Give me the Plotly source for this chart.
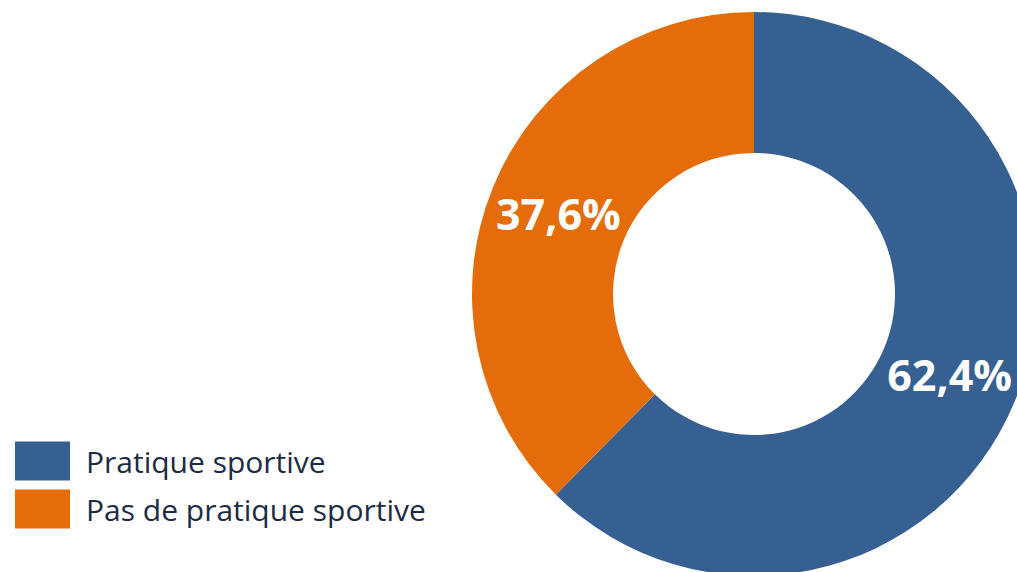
import plotly.graph_objects as go

categories = ["Pratique sportive", "Pas de pratique sportive"]
values = [62.4, 37.6]
colors = ["#376092", "#E46C0A"]

W, H = 1040, 580
cx, cy, R = 754, 294, 282  # px from top-left

fig = go.Figure()
fig.add_trace(go.Pie(
    labels=categories,
    values=values,
    hole=0.5,
    sort=False,
    direction="clockwise",
    rotation=0,
    marker=dict(colors=colors, line=dict(width=0)),
    texttemplate="%{percent:.1%}",
    textposition="inside",
    insidetextorientation="horizontal",
    textfont=dict(family="Open Sans", size=43, color="white", weight="bold"),
    domain=dict(x=[(cx - R) / W, (cx + R) / W], y=[1 - (cy + R) / H, 1 - (cy - R) / H]),
    showlegend=False,
    hoverinfo="label+percent",
))

# custom legend
leg_y = [461, 509]
for i, (cat, col) in enumerate(zip(categories, colors)):
    yc = leg_y[i]
    fig.add_shape(type="rect", xref="paper", yref="paper",
                  x0=15 / W, x1=70 / W, y0=1 - (yc + 19.5) / H, y1=1 - (yc - 19.5) / H,
                  fillcolor=col, line=dict(width=0))
    fig.add_annotation(x=84 / W, y=1 - yc / H, xref="paper", yref="paper",
                       text=cat, showarrow=False, xanchor="left", yanchor="middle",
                       font=dict(family="Open Sans", size=30, color="#1C2B45"))

fig.update_layout(
    width=W, height=H,
    margin=dict(l=0, r=0, t=0, b=0),
    paper_bgcolor="white", plot_bgcolor="white",
    separators=", ",
)

fig.write_html("out.html", config={"displayModeBar": False},
               post_script="document.body.style.margin='0';document.body.style.overflow='hidden';document.documentElement.style.overflow='hidden';")
